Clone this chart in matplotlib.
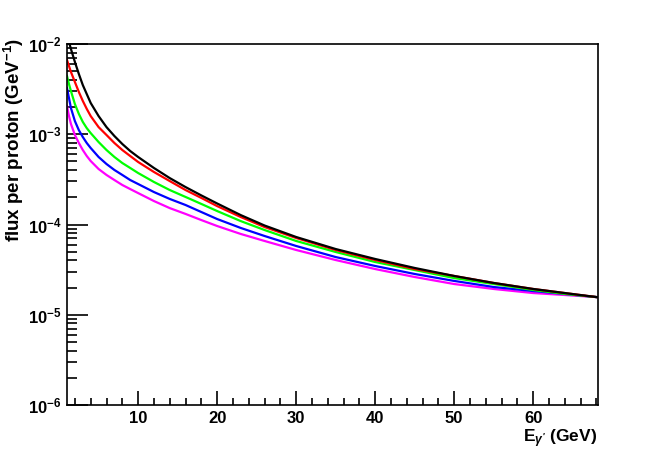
import matplotlib
matplotlib.use("Agg")
import matplotlib.pyplot as plt
from matplotlib.ticker import FixedLocator, MultipleLocator, LogLocator, NullFormatter

plt.rcParams['font.family'] = ['Liberation Sans', 'DejaVu Sans']
plt.rcParams['mathtext.fontset'] = 'custom'
plt.rcParams['mathtext.rm'] = 'Liberation Sans:bold'
plt.rcParams['mathtext.bf'] = 'Liberation Sans:bold'
plt.rcParams['mathtext.it'] = 'Liberation Sans:bold:italic'

# photon energy (GeV)
energy = [1, 1.25, 1.5, 2, 2.5, 3, 3.5, 4, 5, 6, 7, 8, 9, 10, 12, 14, 16, 18, 20,
          23, 26, 30, 35, 40, 45, 50, 55, 60, 64, 68]

# flux per proton (GeV^-1), one curve per colour
flux_black = [1.291e-2, 1.052e-2, 8.80e-3, 6.32e-3, 4.65e-3, 3.51e-3, 2.79e-3, 2.22e-3,
              1.59e-3, 1.20e-3, 9.56e-4, 7.80e-4, 6.52e-4, 5.60e-4, 4.23e-4, 3.27e-4,
              2.60e-4, 2.10e-4, 1.71e-4, 1.27e-4, 9.75e-5, 7.27e-5, 5.35e-5, 4.15e-5,
              3.30e-5, 2.69e-5, 2.25e-5, 1.93e-5, 1.74e-5, 1.57e-5]
flux_red = [6.65e-3, 5.70e-3, 4.90e-3, 3.79e-3, 2.94e-3, 2.34e-3, 1.91e-3, 1.59e-3,
            1.20e-3, 9.81e-4, 8.00e-4, 6.69e-4, 5.74e-4, 4.93e-4, 3.82e-4, 3.03e-4,
            2.41e-4, 1.97e-4, 1.60e-4, 1.21e-4, 9.38e-5, 7.09e-5, 5.22e-5, 4.04e-5,
            3.21e-5, 2.69e-5, 2.25e-5, 1.93e-5, 1.74e-5, 1.57e-5]
flux_green = [4.42e-3, 3.60e-3, 3.01e-3, 2.16e-3, 1.68e-3, 1.37e-3, 1.17e-3, 1.03e-3,
              8.20e-4, 6.69e-4, 5.60e-4, 4.80e-4, 4.23e-4, 3.72e-4, 2.96e-4, 2.41e-4,
              2.02e-4, 1.69e-4, 1.41e-4, 1.09e-4, 8.69e-5, 6.57e-5, 4.96e-5, 3.84e-5,
              3.13e-5, 2.55e-5, 2.19e-5, 1.88e-5, 1.70e-5, 1.57e-5]
flux_blue = [3.25e-3, 2.52e-3, 1.95e-3, 1.40e-3, 1.11e-3, 9.32e-4, 8.00e-4, 7.04e-4,
             5.60e-4, 4.68e-4, 4.02e-4, 3.54e-4, 3.11e-4, 2.81e-4, 2.29e-4, 1.92e-4,
             1.645e-4, 1.375e-4, 1.15e-4, 9.15e-5, 7.46e-5, 5.78e-5, 4.36e-5, 3.47e-5,
             2.83e-5, 2.37e-5, 2.03e-5, 1.83e-5, 1.70e-5, 1.57e-5]
flux_magenta = [2.06e-3, 1.59e-3, 1.30e-3, 9.81e-4, 8.00e-4, 6.69e-4, 5.74e-4, 5.05e-4,
                4.12e-4, 3.54e-4, 3.11e-4, 2.74e-4, 2.47e-4, 2.23e-4, 1.82e-4, 1.52e-4,
                1.31e-4, 1.12e-4, 9.625e-5, 7.85e-5, 6.57e-5, 5.22e-5, 4.04e-5, 3.21e-5,
                2.62e-5, 2.19e-5, 1.93e-5, 1.74e-5, 1.655e-5, 1.57e-5]

x_ticks = [10, 20, 30, 40, 50, 60]
y_ticks = [1e-6, 1e-5, 1e-4, 1e-3, 1e-2]
y_tick_labels = [r'$\mathbf{10^{-6}}$', r'$\mathbf{10^{-5}}$', r'$\mathbf{10^{-4}}$',
                 r'$\mathbf{10^{-3}}$', r'$\mathbf{10^{-2}}$']

fig = plt.figure(figsize=(6.64, 4.5), dpi=100)
ax = fig.add_axes([0.1009, 0.1, 0.7997, 0.8022])

curves = [(flux_magenta, '#ff00ff'), (flux_blue, '#0000ff'), (flux_green, '#00ff00'),
          (flux_red, '#ff0000'), (flux_black, '#000000')]
for flux, col in curves:
    ax.plot(energy, flux, color=col, lw=1.6)

ax.set_yscale('log')
ax.set_xlim(1, 68.2)
ax.set_ylim(1e-6, 1e-2)

ax.xaxis.set_major_locator(FixedLocator(x_ticks))
ax.xaxis.set_minor_locator(MultipleLocator(2))
ax.set_xticklabels([str(t) for t in x_ticks], fontweight='bold', fontsize=12)
ax.yaxis.set_major_locator(FixedLocator(y_ticks))
ax.yaxis.set_minor_locator(LogLocator(base=10, subs=range(2, 10)))
ax.yaxis.set_minor_formatter(NullFormatter())
ax.set_yticklabels(y_tick_labels, fontsize=12)

ax.tick_params(axis='x', which='major', direction='in', length=10, width=1.2, pad=4)
ax.tick_params(axis='x', which='minor', direction='in', length=5, width=1.2)
ax.tick_params(axis='y', which='major', direction='in', length=15, width=1.2, pad=4)
ax.tick_params(axis='y', which='minor', direction='in', length=7.5, width=1.2)
for sp in ax.spines.values():
    sp.set_linewidth(1.2)

fig.text(0.021, 0.915, r'flux per proton (GeV$^{\mathbf{-1}}$)', fontweight='bold',
         fontsize=13.5, rotation=90, ha='center', va='top')
fig.text(0.899, 0.024, r"E$_{\gamma'}$ (GeV)", fontweight='bold', fontsize=12.5,
         ha='right', va='center')

fig.savefig('out.png', dpi=100)
